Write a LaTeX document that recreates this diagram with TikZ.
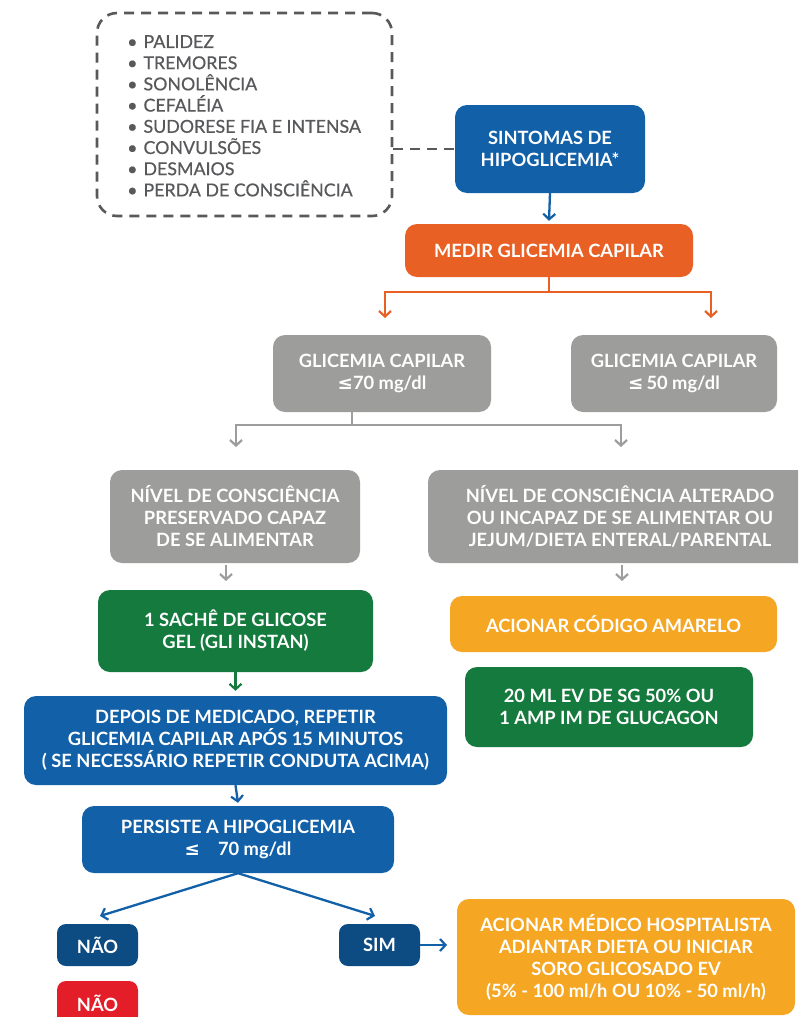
\documentclass[tikz,border=0pt]{standalone}
\usepackage{fontspec}
\setmainfont{Lato}[BoldFont={Lato Bold}]
\newfontfamily\listf{Lato}[FakeBold=0.6]
\newfontfamily\symf{DejaVu Sans}
\usetikzlibrary{arrows.meta}
\definecolor{cblue}{HTML}{1160A8}
\definecolor{cdblue}{HTML}{0D4B83}
\definecolor{corange}{HTML}{E96025}
\definecolor{cgrey}{HTML}{9D9D9C}
\definecolor{cgreen}{HTML}{157A3D}
\definecolor{cyellow}{HTML}{F5A623}
\definecolor{cred}{HTML}{E31E28}
\definecolor{ctext}{HTML}{58595B}
\begin{document}
\begin{tikzpicture}[x=1pt,y=-1pt,
  box/.style={rounded corners=12pt, text=white, font=\fontsize{18.3}{22}\selectfont\bfseries, align=center, inner sep=0pt},
  arr/.style={line width=2.3pt, -{Straight Barb[length=5.5pt,width=12pt,line width=2.2pt]}},
  plain/.style={line width=2.3pt},
  dashline/.style={draw=ctext, line width=2.6pt, dash pattern=on 10pt off 7pt}]
\useasboundingbox (0,0) rectangle (798,1017);
\clip (0,0) rectangle (798,1017);
\fill[white] (0,0) rectangle (798,1017);

% symptoms list
\node[dashline, rounded corners=20pt, minimum width=295, minimum height=203, inner sep=0] (sym) at (244.5,114.5) {};
\node[anchor=north west, inner sep=0, align=left, text=ctext, font=\fontsize{17.8}{21.2}\listf] (list) at (127,35)
 {\textbullet\hspace{6pt}PALIDEZ\\ \textbullet\hspace{6pt}TREMORES\\ \textbullet\hspace{6pt}SONOLÊNCIA\\ \textbullet\hspace{6pt}CEFALÉIA\\ \textbullet\hspace{6pt}SUDORESE FIA E INTENSA\\ \textbullet\hspace{6pt}CONVULSÕES\\ \textbullet\hspace{6pt}DESMAIOS\\ \textbullet\hspace{6pt}PERDA DE CONSCIÊNCIA};

\node[box, fill=cblue, minimum width=190, minimum height=88] (s) at (550,149) {SINTOMAS DE\\HIPOGLICEMIA*};
\draw[dashline] (sym.east |- s.west) -- (s.west);

\node[box, fill=corange, minimum width=288, minimum height=53] (med) at (549,250.5) {MEDIR GLICEMIA CAPILAR};
\draw[arr, draw=cblue] (s.south) -- ([yshift=3pt]med.north);

\node[box, fill=cgrey, minimum width=218, minimum height=77] (g70) at (382,373.5) {GLICEMIA CAPILAR\\{\symf ≤}70 mg/dl};
\node[box, fill=cgrey, minimum width=206, minimum height=77] (g50) at (674,373.5) {GLICEMIA CAPILAR\\{\symf ≤}\,50 mg/dl};

\coordinate (oj) at (med.south |- 0,292);
\coordinate (ol) at (385,318);
\coordinate (or) at (711,318);
\draw[plain, draw=corange] (med.south) -- (oj);
\draw[arr, draw=corange] (oj) -| (ol);
\draw[arr, draw=corange] (oj) -| (or);

\node[box, fill=cgrey, minimum width=250, minimum height=93] (n1) at (235,516.5) {NÍVEL DE CONSCIÊNCIA\\PRESERVADO CAPAZ\\DE SE ALIMENTAR};
\node[box, fill=cgrey, minimum width=384, minimum height=93] (n2) at (620,516.5) {NÍVEL DE CONSCIÊNCIA ALTERADO\\OU INCAPAZ DE SE ALIMENTAR OU\\JEJUM/DIETA ENTERAL/PARENTAL};

\coordinate (gs) at (352,412);
\coordinate (gj) at (352,425);
\coordinate (gl) at (236,447);
\coordinate (gr) at (621,447);
\draw[plain, draw=cgrey] (gs) -- (gj);
\draw[arr, draw=cgrey] (gj) -| (gl);
\draw[arr, draw=cgrey] (gj) -| (gr);

\node[box, fill=cgreen, minimum width=275, minimum height=82] (sach) at (235.5,631) {1 SACHÊ DE GLICOSE\\GEL (GLI INSTAN)};
\node[box, fill=cyellow, minimum width=327, minimum height=56] (cod) at (613.5,624) {ACIONAR CÓDIGO AMARELO};
\node[box, fill=cgreen, minimum width=288, minimum height=80] (ml) at (609,707) {20 ML EV DE SG 50\% OU\\1 AMP IM DE GLUCAGON};

\coordinate (a1) at (226,565);
\coordinate (a1e) at (226,581);
\coordinate (a2) at (622,565);
\coordinate (a2e) at (622,581);
\draw[arr, draw=cgrey] (a1) -- (a1e);
\draw[arr, draw=cgrey] (a2) -- (a2e);

\node[box, fill=cblue, minimum width=423, minimum height=89] (dep) at (235.5,740.5) {DEPOIS DE MEDICADO, REPETIR\\GLICEMIA CAPILAR APÓS 15 MINUTOS\\( SE NECESSÁRIO REPETIR CONDUTA ACIMA)};
\draw[arr, draw=cgreen] (sach.south) -- ([yshift=5pt]dep.north);

\node[box, fill=cblue, minimum width=312, minimum height=67] (per) at (238,839.5) {PERSISTE A HIPOGLICEMIA\\{\symf ≤}\hspace{18pt}70 mg/dl};
\draw[arr, draw=cblue] (dep.south) -- ([yshift=3pt]per.north);

\node[box, fill=cdblue, rounded corners=9pt, minimum width=81, minimum height=42] (nao) at (97.5,945) {NÃO};
\node[box, fill=cdblue, rounded corners=9pt, minimum width=81, minimum height=42] (sim) at (379.5,945) {SIM};
\node[box, fill=cred, rounded corners=9pt, minimum width=81, minimum height=44] (nao2) at (97.5,1003) {NÃO};

\coordinate (dl) at (100,916);
\coordinate (dr) at (375,916);
\draw[arr, draw=cblue] (per.south) -- (dl);
\draw[arr, draw=cblue] (per.south) -- (dr);

\node[box, fill=cyellow, minimum width=338, minimum height=116] (medh) at (626,957) {ACIONAR MÉDICO HOSPITALISTA\\ADIANTAR DIETA OU INICIAR\\SORO GLICOSADO EV\\(5\% - 100 ml/h OU 10\% - 50 ml/h)};
\coordinate (se) at (447,945);
\draw[arr, draw=cblue] (sim.east) -- (se);
\end{tikzpicture}
\end{document}
